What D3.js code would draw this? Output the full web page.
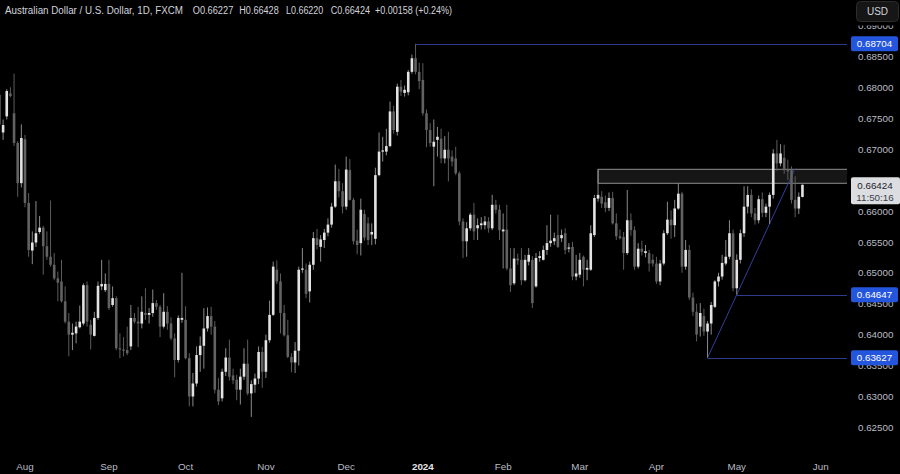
<!DOCTYPE html>
<html><head><meta charset="utf-8">
<script src="https://cdn.jsdelivr.net/npm/d3@7"></script>
<style>html,body{margin:0;padding:0;background:#000;overflow:hidden}svg{display:block}</style>
</head><body><svg id="c" width="900" height="474"></svg>
<script>
// ---------- data ----------
const firstDate = "2023-07-21";
const lastAxisDate = "2024-06-28";
const closedDays = ["2024-01-01"];

const opens = [
.6788,.6727,.6753,.6790,.6758,.6710,.6645,.6716,.6613,.6536,
.6549,.6566,.6573,.6543,.6526,.6513,.6491,.6486,.6454,.6421,
.6400,.6402,.6412,.6418,.6480,.6416,.6398,.6427,.6478,.6472,
.6482,.6448,.6459,.6378,.6376,.6375,.6381,.6427,.6421,.6418,
.6435,.6432,.6435,.6451,.6445,.6413,.6437,.6418,.6394,.6359,
.6424,.6424,.6362,.6300,.6321,.6367,.6382,.6410,.6430,.6413,
.6311,.6297,.6340,.6363,.6334,.6327,.6311,.6332,.6353,.6305,
.6319,.6329,.6372,.6340,.6391,.6432,.6505,.6486,.6435,.6399,
.6364,.6355,.6374,.6505,.6505,.6470,.6513,.6556,.6542,.6553,
.6565,.6578,.6607,.6648,.6632,.6607,.6666,.6618,.6552,.6548,
.6595,.6580,.6562,.6555,.6658,.6696,.6696,.6705,.6761,.6728,
.6801,.6791,.6792,.6825,.6847,.6825,.6812,.6758,.6731,.6704,
.6715,.6717,.6685,.6699,.6688,.6685,.6661,.6583,.6551,.6572,
.6594,.6572,.6577,.6577,.6583,.6572,.6610,.6602,.6567,.6570,
.6507,.6483,.6523,.6521,.6488,.6518,.6521,.6478,.6524,.6521,
.6537,.6548,.6551,.6561,.6556,.6564,.6539,.6542,.6494,.6497,
.6526,.6505,.6505,.6561,.6620,.6623,.6614,.6605,.6621,.6580,
.6559,.6558,.6532,.6585,.6569,.6510,.6539,.6532,.6532,.6521,
.6515,.6486,.6515,.6564,.6586,.6577,.6604,.6628,.6510,.6537,
.6460,.6437,.6413,.6430,.6405,.6418,.6445,.6486,.6494,.6515,
.6526,.6564,.6475,.6521,.6564,.6607,.6626,.6596,.6585,.6619,
.6597,.6607,.6626,.6693,.6677,.6686,.6666,.6666,.6618,.6604,.66227];

const highs = [
.6800,.6748,.6797,.6800,.6822,.6713,.6740,.6723,.6629,.6567,
.6616,.6592,.6576,.6567,.6617,.6532,.6502,.6521,.6478,.6435,
.6418,.6421,.6447,.6483,.6486,.6424,.6437,.6486,.6521,.6499,
.6521,.6478,.6462,.6402,.6396,.6413,.6448,.6435,.6445,.6462,
.6475,.6443,.6473,.6456,.6448,.6467,.6446,.6428,.6402,.6431,
.6500,.6446,.6370,.6338,.6381,.6397,.6443,.6444,.6445,.6422,
.6330,.6345,.6378,.6392,.6345,.6335,.6345,.6378,.6392,.6326,
.6337,.6381,.6380,.6400,.6455,.6518,.6520,.6499,.6448,.6424,
.6370,.6388,.6510,.6540,.6515,.6518,.6566,.6571,.6561,.6571,
.6588,.6613,.6675,.6668,.6645,.6688,.6684,.6621,.6570,.6620,
.6602,.6590,.6580,.6670,.6727,.6720,.6733,.6777,.6770,.6806,
.6812,.6803,.6828,.6853,.68704,.6840,.6839,.6764,.6742,.6748,
.6736,.6733,.6721,.6728,.6698,.6704,.6664,.6588,.6582,.6597,
.6613,.6588,.6590,.6592,.6590,.6626,.6618,.6610,.6596,.6610,
.6540,.6540,.6531,.6540,.6529,.6540,.6527,.6532,.6535,.6544,
.6577,.6594,.6565,.6594,.6570,.6572,.6548,.6550,.6529,.6532,
.6528,.6521,.6577,.6626,.6667,.6632,.6625,.6630,.6631,.6596,
.6570,.6566,.6634,.6596,.6575,.6548,.6552,.6545,.6537,.6530,
.6526,.6521,.6569,.6615,.6601,.6618,.6645,.6631,.6553,.6545,
.6468,.6450,.6451,.6442,.6422,.6453,.6488,.6500,.6529,.6553,
.6585,.6570,.6530,.6570,.6640,.6640,.6635,.6605,.6625,.6630,
.6612,.6630,.6700,.6715,.6708,.6707,.6683,.6672,.6656,.6630,.66428];

const lows = [
.6732,.6715,.6748,.6784,.6705,.6623,.6638,.6606,.6526,.6514,
.6542,.6563,.6497,.6521,.6510,.6488,.6454,.6452,.6418,.6365,
.6375,.6386,.6410,.6415,.6413,.6376,.6397,.6424,.6472,.6469,
.6440,.6445,.6375,.6362,.6365,.6367,.6375,.6418,.6380,.6410,
.6424,.6418,.6429,.6440,.6396,.6410,.6408,.6391,.6331,.6355,
.6419,.6360,.6284,.6284,.6316,.6340,.6345,.6405,.6400,.6305,
.6286,.6292,.6333,.6326,.6320,.6294,.6287,.6327,.6302,.6267,
.6306,.6320,.6314,.6330,.6387,.6430,.6482,.6402,.6397,.6362,
.6339,.6338,.6350,.6500,.6459,.6452,.6505,.6538,.6518,.6540,
.6559,.6573,.6605,.6622,.6596,.6602,.6617,.6546,.6530,.6528,
.6552,.6545,.6545,.6546,.6656,.6680,.6690,.6703,.6725,.6722,
.6786,.6785,.6787,.6822,.6821,.6797,.6754,.6703,.6704,.6640,
.6688,.6677,.6677,.6648,.6672,.6658,.6577,.6524,.6526,.6568,
.6553,.6553,.6570,.6570,.6565,.6569,.6596,.6553,.6507,.6504,
.6469,.6480,.6513,.6480,.6486,.6512,.6443,.6476,.6518,.6520,
.6529,.6542,.6545,.6540,.6550,.6530,.6533,.6488,.6488,.6492,
.6478,.6488,.6503,.6558,.6615,.6605,.6598,.6600,.6578,.6553,
.6554,.6505,.6529,.6560,.6505,.6507,.6528,.6525,.6502,.6510,
.6482,.6480,.6512,.6561,.6555,.6558,.6602,.6500,.6505,.6456,
.6430,.6389,.6397,.6398,.63627,.6400,.6443,.6478,.6489,.6512,
.6522,.6470,.64647,.6515,.6558,.6596,.6590,.6578,.6580,.6590,
.6590,.6579,.6620,.6665,.6672,.6660,.6650,.6612,.6590,.6595,.66220];

const closes = [
.6740,.6739,.6794,.6786,.6710,.6645,.6718,.6613,.6537,.6549,
.6564,.6573,.6543,.6526,.6513,.6491,.6484,.6454,.6421,.6400,
.6403,.6413,.6421,.6480,.6421,.6400,.6427,.6479,.6482,.6482,
.6443,.6459,.6378,.6376,.6374,.6370,.6427,.6421,.6418,.6437,
.6432,.6435,.6451,.6445,.6413,.6437,.6418,.6394,.6359,.6427,
.6427,.6362,.6300,.6321,.6367,.6382,.6410,.6430,.6413,.6311,
.6292,.6340,.6363,.6332,.6326,.6311,.6332,.6353,.6305,.6320,
.6329,.6372,.6340,.6391,.6432,.6510,.6486,.6435,.6399,.6364,
.6355,.6374,.6505,.6507,.6466,.6513,.6556,.6545,.6554,.6565,
.6578,.6607,.6648,.6632,.6607,.6667,.6618,.6551,.6545,.6602,
.6557,.6553,.6566,.6658,.6696,.6698,.6705,.6761,.6731,.6801,
.6793,.6796,.6825,.6847,.6825,.6810,.6758,.6731,.6710,.6712,
.6720,.6685,.6699,.6685,.6680,.6661,.6583,.6551,.6572,.6594,
.6567,.6577,.6580,.6583,.6572,.6610,.6602,.6569,.6570,.6507,
.6480,.6523,.6520,.6488,.6521,.6529,.6451,.6524,.6527,.6537,
.6548,.6552,.6556,.6542,.6561,.6537,.6541,.6494,.6499,.6521,
.6505,.6508,.6564,.6621,.6626,.6612,.6605,.6621,.6580,.6559,
.6556,.6532,.6585,.6569,.6510,.6539,.6534,.6535,.6515,.6515,
.6486,.6515,.6564,.6586,.6577,.6604,.6628,.6510,.6537,.6460,
.6437,.6400,.6435,.6405,.6418,.6448,.6486,.6494,.6516,.6526,
.6564,.6475,.6521,.6564,.6607,.6626,.6596,.6585,.6619,.6597,
.6607,.6626,.6693,.6677,.6693,.6666,.6664,.6618,.6604,.6623,.66424];

const yTicks = [0.625,0.630,0.635,0.640,0.645,0.650,0.655,0.660,0.665,0.670,0.675,0.680,0.685,0.690];
const xTickMonths = ["2023-08","2023-09","2023-10","2023-11","2023-12","2024-01","2024-02","2024-03","2024-04","2024-05","2024-06"];
const xTickLabels = ["Aug","Sep","Oct","Nov","Dec","2024","Feb","Mar","Apr","May","Jun"];

const levelValues = [0.68704, 0.64647, 0.63627];
const levelDates = ["2023-12-28", "2024-05-01", "2024-04-19"];
const zoneValues = [0.66674, 0.66448];
const zoneDate = "2024-03-08";
const trendDates = ["2024-04-19", "2024-05-01", "2024-05-23"];
const trendValues = [0.63627, 0.64647];
const lastPrice = 0.66424;
const countdown = "11:50:16";
const titleParts = ["Australian Dollar / U.S. Dollar, 1D, FXCM","O0.66227","H0.66428","L0.66220","C0.66424","+0.00158 (+0.24%)"];

// ---------- build ----------
const fmtDay = d3.utcFormat("%Y-%m-%d");
const tradingDays = d3.utcDays(new Date(firstDate + "T00:00:00Z"), new Date(lastAxisDate + "T00:00:00Z"))
  .filter(d => d.getUTCDay() > 0 && d.getUTCDay() < 6 && !closedDays.includes(fmtDay(d)))
  .map(fmtDay);
const idx = s => tradingDays.indexOf(s);

const candles = opens.map((o, k) => ({k, o, h: highs[k], l: lows[k], c: closes[k]}));

const W = 900, H = 474, plotRight = 847;
const x = d3.scaleLinear().domain([0, 220]).range([-0.55, 802.45]);
const y = d3.scaleLinear().domain([0.625, 0.685]).range([427.4, 56.4]);

const svg = d3.select("#c");
svg.append("rect").attr("width", W).attr("height", H).attr("fill", "#000");

const plot = svg.append("g");
plot.append("clipPath").attr("id", "pc").append("rect").attr("x", 0).attr("y", 0).attr("width", plotRight).attr("height", 452);
const pg = plot.append("g").attr("clip-path", "url(#pc)");

// zone (extends past the plot edge so its right side is hidden)
const zx0 = x(idx(zoneDate));
pg.append("rect")
  .attr("x", zx0).attr("y", y(zoneValues[0]))
  .attr("width", plotRight + 10 - zx0).attr("height", y(zoneValues[1]) - y(zoneValues[0]))
  .attr("fill", "#161616").attr("stroke", "#8e8e8e").attr("stroke-width", 1);

// level lines
levelValues.forEach((v, i) => {
  pg.append("line")
    .attr("x1", x(idx(levelDates[i]))).attr("x2", plotRight)
    .attr("y1", Math.round(y(v)) + 0.5).attr("y2", Math.round(y(v)) + 0.5)
    .attr("stroke", "#2d3b8e").attr("stroke-width", 1);
});

// trendline
const ta = idx(trendDates[0]), tb = idx(trendDates[1]), tc = idx(trendDates[2]);
const slope = (trendValues[1] - trendValues[0]) / (tb - ta);
pg.append("line")
  .attr("x1", x(ta)).attr("y1", y(trendValues[0]))
  .attr("x2", x(tc)).attr("y2", y(trendValues[0] + slope * (tc - ta)))
  .attr("stroke", "#2f3f9c").attr("stroke-width", 1);

// candles
const cg = pg.append("g");
cg.selectAll("line.w").data(candles).join("line").attr("class", "w")
  .attr("x1", d => x(d.k)).attr("x2", d => x(d.k))
  .attr("y1", d => y(d.h)).attr("y2", d => y(d.l))
  .attr("stroke", d => d.c >= d.o ? "#8a8a8a" : "#5c5c5c").attr("stroke-width", 1);
cg.selectAll("rect.b").data(candles).join("rect").attr("class", "b")
  .attr("x", d => x(d.k) - 1.3).attr("width", 2.6)
  .attr("y", d => y(Math.max(d.o, d.c)))
  .attr("height", d => Math.max(1, Math.abs(y(d.o) - y(d.c))))
  .attr("fill", d => d.c >= d.o ? "#e3e3e3" : "#626262");

// right price axis
const font = "'Liberation Sans', Arial, sans-serif";
const yFmt = d3.format(".5f");
svg.append("g").selectAll("text").data(yTicks).join("text")
  .attr("x", 858).attr("y", d => y(d) + 3.6)
  .attr("fill", "#b9bcc4").attr("font-family", font).attr("font-size", 9.8)
  .text(d => yFmt(d));

// top cover + USD button
svg.append("rect").attr("x", plotRight).attr("y", 0).attr("width", W - plotRight).attr("height", 25.5).attr("fill", "#000");
svg.append("rect").attr("x", 856.5).attr("y", 1.5).attr("width", 42).attr("height", 20).attr("rx", 4)
  .attr("fill", "#161616").attr("stroke", "#2c2c2c");
svg.append("text").attr("x", 877.5).attr("y", 15.2).attr("text-anchor", "middle")
  .attr("fill", "#d1d4dc").attr("font-family", font).attr("font-size", 10).text("USD");

// level labels
levelValues.forEach(v => {
  const yy = y(v);
  svg.append("rect").attr("x", 851).attr("y", yy - 7.5).attr("width", 47).attr("height", 15).attr("rx", 2).attr("fill", "#2455dd");
  svg.append("text").attr("x", 874.5).attr("y", yy + 3.6).attr("text-anchor", "middle")
    .attr("fill", "#ffffff").attr("font-family", font).attr("font-size", 9.8).text(yFmt(v));
});

// last price label
const ly = y(lastPrice);
svg.append("rect").attr("x", 851).attr("y", ly - 7.5).attr("width", 49).attr("height", 27).attr("rx", 2).attr("fill", "#dcdde0");
svg.append("text").attr("x", 875).attr("y", ly + 3.8).attr("text-anchor", "middle")
  .attr("fill", "#1e222d").attr("font-family", font).attr("font-size", 9.8).text(yFmt(lastPrice));
svg.append("text").attr("x", 875).attr("y", ly + 16).attr("text-anchor", "middle")
  .attr("fill", "#3b3f4a").attr("font-family", font).attr("font-size", 9.8).text(countdown);

// bottom time axis
const tickIdx = xTickMonths.map(m => tradingDays.findIndex(d => d.startsWith(m)));
svg.append("g").selectAll("text").data(tickIdx).join("text")
  .attr("x", d => x(d)).attr("y", 469.5).attr("text-anchor", "middle")
  .attr("fill", (d, i) => xTickLabels[i] === "2024" ? "#e6e6e6" : "#b9bcc4")
  .attr("font-weight", (d, i) => xTickLabels[i] === "2024" ? "bold" : "normal")
  .attr("font-family", font).attr("font-size", 9.8)
  .text((d, i) => xTickLabels[i]);

// title
const titleX = [5, 192.7, 239.3, 286, 330.7, 375];
const titleW = [178, 40.6, 39.4, 37.3, 39.3, 77];
titleParts.forEach((t, i) => {
  svg.append("text").attr("x", titleX[i]).attr("y", 14.2)
    .attr("fill", "#d1d4dc").attr("font-family", font).attr("font-size", 10)
    .attr("textLength", titleW[i]).attr("lengthAdjust", "spacingAndGlyphs").text(t);
});
</script>
</body></html>
